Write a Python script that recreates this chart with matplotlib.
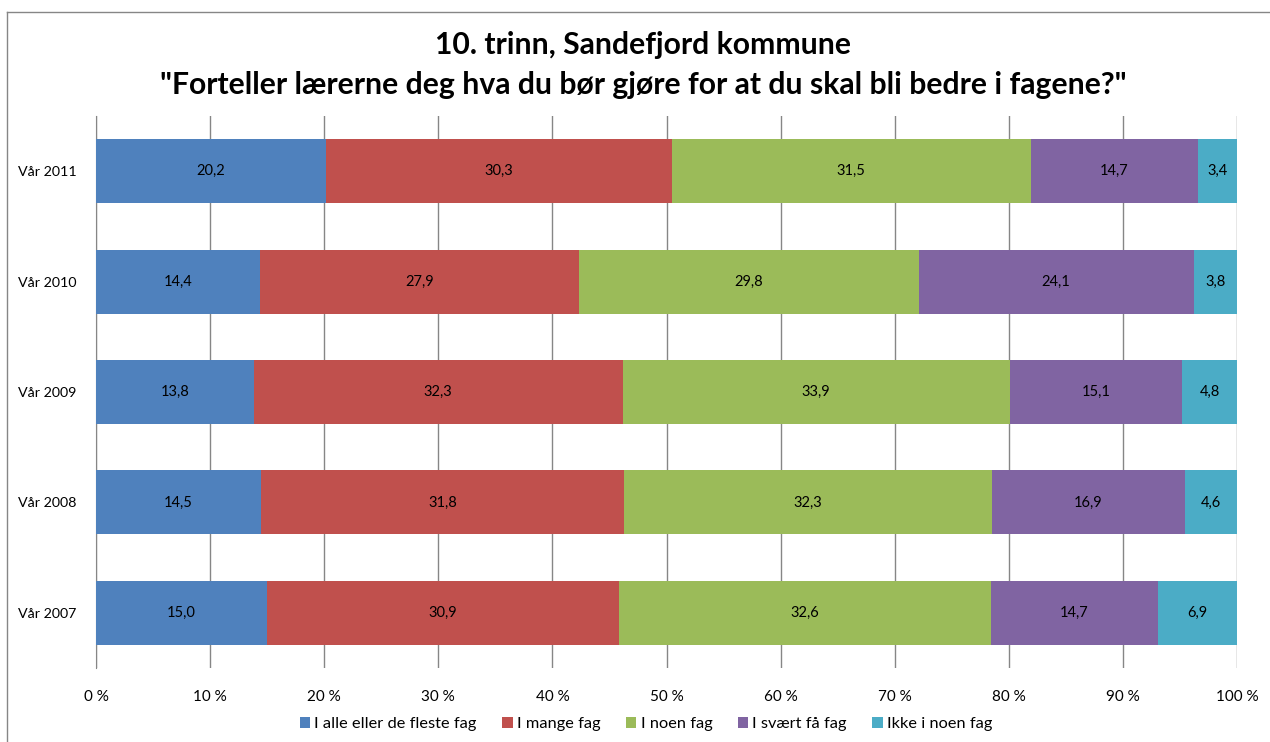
import matplotlib
matplotlib.use("Agg")
import matplotlib.pyplot as plt
from matplotlib.lines import Line2D
import numpy as np

plt.rcParams['font.family'] = ['Lato', 'DejaVu Sans']

categories = ["Vår 2011", "Vår 2010", "Vår 2009", "Vår 2008", "Vår 2007"]
series_names = ["I alle eller de fleste fag", "I mange fag", "I noen fag", "I svært få fag", "Ikke i noen fag"]
s_alle = [20.2, 14.4, 13.8, 14.5, 15.0]
s_mange = [30.3, 27.9, 32.3, 31.8, 30.9]
s_noen = [31.5, 29.8, 33.9, 32.3, 32.6]
s_faa = [14.7, 24.1, 15.1, 16.9, 14.7]
s_ikke = [3.4, 3.8, 4.8, 4.6, 6.9]
colors = ["#4F81BD", "#C0504D", "#9BBB59", "#8064A2", "#4BACC6"]
xticks = [0, 10, 20, 30, 40, 50, 60, 70, 80, 90, 100]
xticklabels = [f"{v} %" for v in xticks]

series = [s_alle, s_mange, s_noen, s_faa, s_ikke]

fig = plt.figure(figsize=(12.7, 7.42), dpi=100)
W, H = 1270, 742
ax = fig.add_axes([96 / W, 1 - 668 / H, (1237 - 96) / W, (668 - 116) / H])

data = np.array(series)
totals = data.sum(axis=0)
pct = data / totals * 100
y = np.arange(len(categories))[::-1]
left = np.zeros(len(categories))
handles = []
for vals, raw, name, c in zip(pct, series, series_names, colors):
    b = ax.barh(y, vals, left=left, height=0.58, color=c, label=name, zorder=3)
    for yi, l, v, r in zip(y, left, vals, raw):
        ax.text(l + v / 2, yi, f"{r:.1f}".replace(".", ","), ha="center", va="center",
                fontsize=10.5, color="black", zorder=4)
    left = left + vals
    handles.append(b)

ax.set_xlim(0, 100)
ax.set_ylim(-0.5, len(categories) - 0.5)
ax.set_yticks(y)
ax.set_yticklabels(categories, fontsize=10.3)
ax.set_xticks(xticks)
ax.set_xticklabels(xticklabels, fontsize=11)
ax.grid(axis="x", color="#868686", linewidth=1, zorder=0)
for s in ["top", "right", "bottom"]:
    ax.spines[s].set_visible(False)
ax.spines["left"].set_color("#868686")
ax.tick_params(axis="y", length=0, pad=14)
ax.tick_params(axis="x", length=0, pad=16)

fig.text(643 / W, 1 - 45 / H, "10. trinn, Sandefjord kommune", ha="center", va="center",
         fontsize=21.7, fontweight="bold")
fig.text(643 / W, 1 - 85 / H, "\"Forteller lærerne deg hva du bør gjøre for at du skal bli bedre i fagene?\"",
         ha="center", va="center", fontsize=21.7, fontweight="bold")

fig.legend(handles=handles, labels=series_names, loc="center", bbox_to_anchor=(646 / W, 1 - 724 / H),
           ncol=5, frameon=False, fontsize=11.8, handlelength=0.65, handleheight=0.65,
           handletextpad=0.25, columnspacing=1.55)

fig.add_artist(Line2D([7 / W, 1], [1 - 12 / H, 1 - 12 / H], transform=fig.transFigure, color="#868686", lw=1))
fig.add_artist(Line2D([7 / W, 7 / W], [1 - 12 / H, 0], transform=fig.transFigure, color="#868686", lw=1))

fig.savefig("out.png", dpi=100)
